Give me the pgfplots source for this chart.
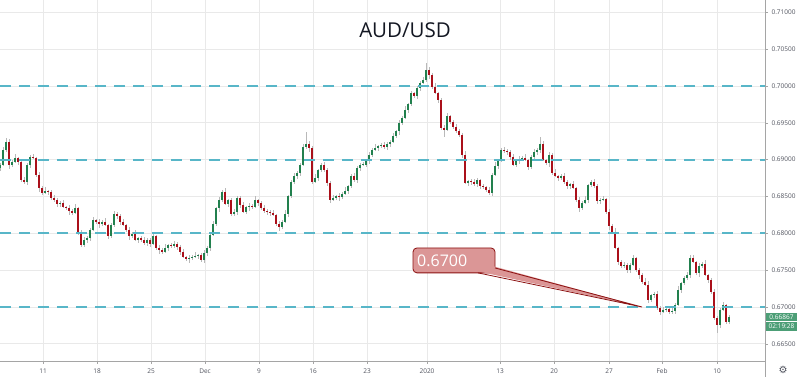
\documentclass[border=0pt]{standalone}
\usepackage{pgfplots}
\pgfplotsset{compat=1.18}
\usepackage{pgfplotstable}
\usepackage{fontspec}
\setmainfont{Open Sans}
\newfontfamily\symfont{DejaVu Sans}
\definecolor{upc}{RGB}{34,128,78}
\definecolor{dnc}{RGB}{170,16,26}
\definecolor{wick}{RGB}{185,185,185}
\definecolor{lvl}{RGB}{88,182,200}
\definecolor{gridc}{RGB}{233,233,233}
\definecolor{axc}{RGB}{165,165,165}
\definecolor{tickc}{RGB}{80,83,94}
\definecolor{calfill}{RGB}{219,150,150}
\definecolor{caldraw}{RGB}{140,18,18}
\definecolor{pricec}{RGB}{76,158,118}

\pgfplotstableread{
x o h l c
0 0.68887 0.68955 0.68847 0.68928
3 0.68928 0.69172 0.68914 0.69132
6 0.69132 0.69294 0.69104 0.69240
9 0.69240 0.69281 0.68874 0.68928
12 0.68928 0.68996 0.68901 0.68969
15 0.68969 0.69077 0.68955 0.69023
18 0.69023 0.69037 0.68928 0.68969
21 0.68969 0.68996 0.68697 0.68725
24 0.68725 0.68765 0.68670 0.68697
27 0.68697 0.68955 0.68657 0.68928
30 0.68928 0.69064 0.68887 0.69037
33 0.69037 0.69077 0.69009 0.69023
36 0.69023 0.69037 0.68765 0.68792
39 0.68792 0.68833 0.68562 0.68616
42 0.68616 0.68643 0.68521 0.68548
45 0.68548 0.68630 0.68535 0.68575
48 0.68575 0.68589 0.68521 0.68562
51 0.68562 0.68589 0.68453 0.68480
54 0.68480 0.68521 0.68426 0.68453
57 0.68453 0.68480 0.68358 0.68399
60 0.68399 0.68439 0.68358 0.68412
63 0.68412 0.68453 0.68345 0.68358
66 0.68358 0.68372 0.68317 0.68345
69 0.68345 0.68385 0.68250 0.68304
72 0.68304 0.68331 0.68250 0.68277
75 0.68277 0.68399 0.68263 0.68345
78 0.68345 0.68358 0.67978 0.68019
81 0.68019 0.68046 0.67815 0.67843
84 0.67843 0.67951 0.67815 0.67910
87 0.67910 0.67965 0.67870 0.67938
90 0.67938 0.68073 0.67897 0.68046
93 0.68046 0.68223 0.68033 0.68182
96 0.68182 0.68195 0.68127 0.68155
99 0.68155 0.68195 0.68073 0.68127
102 0.68127 0.68182 0.68100 0.68155
105 0.68155 0.68209 0.68100 0.68114
108 0.68114 0.68127 0.67924 0.67965
111 0.67965 0.68141 0.67938 0.68114
114 0.68114 0.68304 0.68087 0.68263
117 0.68263 0.68290 0.68195 0.68236
120 0.68236 0.68263 0.68114 0.68155
123 0.68155 0.68195 0.68100 0.68114
126 0.68114 0.68127 0.68019 0.68046
129 0.68046 0.68087 0.67910 0.67965
132 0.67965 0.68019 0.67938 0.67992
135 0.67992 0.68046 0.67897 0.67910
138 0.67910 0.67951 0.67870 0.67938
141 0.67938 0.67965 0.67883 0.67910
144 0.67910 0.67951 0.67843 0.67870
147 0.67870 0.67938 0.67829 0.67910
150 0.67910 0.67938 0.67815 0.67856
153 0.67856 0.68005 0.67843 0.67965
156 0.67965 0.67978 0.67775 0.67802
159 0.67802 0.67843 0.67720 0.67775
162 0.67775 0.67802 0.67720 0.67748
165 0.67748 0.67856 0.67734 0.67802
168 0.67802 0.67856 0.67761 0.67843
171 0.67843 0.67870 0.67802 0.67829
174 0.67829 0.67897 0.67802 0.67856
177 0.67856 0.67883 0.67775 0.67815
180 0.67815 0.67843 0.67707 0.67748
183 0.67748 0.67788 0.67666 0.67680
186 0.67680 0.67693 0.67625 0.67653
189 0.67653 0.67707 0.67598 0.67666
192 0.67666 0.67707 0.67639 0.67680
195 0.67680 0.67748 0.67666 0.67693
198 0.67693 0.67720 0.67653 0.67707
201 0.67707 0.67734 0.67612 0.67639
204 0.67639 0.67775 0.67598 0.67734
207 0.67734 0.67829 0.67693 0.67802
210 0.67802 0.68005 0.67761 0.67978
213 0.67978 0.68168 0.67965 0.68127
216 0.68127 0.68358 0.68100 0.68345
219 0.68345 0.68494 0.68290 0.68453
222 0.68453 0.68589 0.68426 0.68562
225 0.68562 0.68616 0.68385 0.68399
228 0.68399 0.68467 0.68358 0.68453
231 0.68453 0.68480 0.68236 0.68263
234 0.68263 0.68331 0.68236 0.68290
237 0.68290 0.68507 0.68250 0.68480
240 0.68480 0.68507 0.68345 0.68385
243 0.68385 0.68426 0.68277 0.68290
246 0.68290 0.68372 0.68263 0.68358
249 0.68358 0.68412 0.68304 0.68372
252 0.68372 0.68399 0.68331 0.68358
255 0.68358 0.68507 0.68345 0.68453
258 0.68453 0.68467 0.68372 0.68412
261 0.68412 0.68439 0.68317 0.68345
264 0.68345 0.68385 0.68277 0.68304
267 0.68304 0.68331 0.68250 0.68290
270 0.68290 0.68317 0.68236 0.68277
273 0.68277 0.68317 0.68236 0.68250
276 0.68250 0.68263 0.68100 0.68127
279 0.68127 0.68168 0.68033 0.68087
282 0.68087 0.68182 0.68060 0.68155
285 0.68155 0.68317 0.68141 0.68263
288 0.68263 0.68521 0.68223 0.68507
291 0.68507 0.68725 0.68480 0.68697
294 0.68697 0.68819 0.68670 0.68779
297 0.68779 0.68847 0.68738 0.68819
300 0.68819 0.68955 0.68779 0.68928
303 0.68928 0.69213 0.68914 0.69172
306 0.69172 0.69376 0.69145 0.69213
309 0.69213 0.69254 0.69104 0.69159
312 0.69159 0.69186 0.68670 0.68697
315 0.68697 0.68806 0.68684 0.68752
318 0.68752 0.68874 0.68711 0.68860
321 0.68860 0.68955 0.68833 0.68928
324 0.68928 0.68969 0.68833 0.68860
327 0.68860 0.68887 0.68643 0.68684
330 0.68684 0.68711 0.68412 0.68453
333 0.68453 0.68521 0.68439 0.68480
336 0.68480 0.68521 0.68453 0.68507
339 0.68507 0.68548 0.68439 0.68494
342 0.68494 0.68562 0.68467 0.68535
345 0.68535 0.68630 0.68521 0.68575
348 0.68575 0.68657 0.68535 0.68643
351 0.68643 0.68806 0.68616 0.68779
354 0.68779 0.68819 0.68697 0.68725
357 0.68725 0.68914 0.68684 0.68887
360 0.68887 0.68955 0.68847 0.68928
363 0.68928 0.68969 0.68914 0.68935
366 0.68928 0.69009 0.68901 0.68996
369 0.68996 0.69104 0.68942 0.69064
372 0.69064 0.69159 0.69037 0.69132
375 0.69132 0.69213 0.69118 0.69159
378 0.69159 0.69199 0.69118 0.69186
381 0.69186 0.69227 0.69159 0.69199
384 0.69199 0.69240 0.69145 0.69172
387 0.69172 0.69240 0.69132 0.69213
390 0.69213 0.69267 0.69172 0.69240
393 0.69240 0.69362 0.69227 0.69322
396 0.69322 0.69403 0.69294 0.69389
399 0.69389 0.69539 0.69335 0.69498
402 0.69498 0.69593 0.69471 0.69566
405 0.69566 0.69729 0.69552 0.69674
408 0.69674 0.69769 0.69634 0.69756
411 0.69756 0.69932 0.69729 0.69905
414 0.69905 0.69919 0.69837 0.69864
417 0.69864 0.70000 0.69824 0.69973
420 0.69973 0.70068 0.69932 0.70041
423 0.70041 0.70122 0.70027 0.70081
426 0.70081 0.70312 0.70054 0.70217
429 0.70217 0.70258 0.70095 0.70149
432 0.70149 0.70176 0.69959 0.69986
435 0.69986 0.70041 0.69891 0.69905
438 0.69905 0.69919 0.69769 0.69810
441 0.69810 0.69837 0.69403 0.69430
444 0.69430 0.69471 0.69308 0.69403
447 0.69403 0.69634 0.69389 0.69593
450 0.69593 0.69606 0.69484 0.69512
453 0.69512 0.69539 0.69417 0.69444
456 0.69444 0.69484 0.69362 0.69389
459 0.69389 0.69417 0.69308 0.69335
462 0.69335 0.69362 0.69023 0.69064
465 0.69064 0.69118 0.68670 0.68684
468 0.68684 0.68725 0.68643 0.68711
471 0.68711 0.68738 0.68657 0.68697
474 0.68697 0.68738 0.68643 0.68670
477 0.68670 0.68752 0.68630 0.68725
480 0.68725 0.68738 0.68602 0.68643
483 0.68643 0.68670 0.68602 0.68630
486 0.68630 0.68643 0.68562 0.68589
489 0.68589 0.68630 0.68521 0.68548
492 0.68548 0.68819 0.68507 0.68792
495 0.68792 0.68969 0.68779 0.68914
498 0.68914 0.69009 0.68874 0.68996
501 0.68996 0.69159 0.68969 0.69132
504 0.69132 0.69172 0.69091 0.69118
507 0.69118 0.69145 0.69064 0.69104
510 0.69104 0.69132 0.68996 0.69037
513 0.69037 0.69077 0.68914 0.68928
516 0.68928 0.69009 0.68901 0.68996
519 0.68996 0.69050 0.68942 0.69009
522 0.69009 0.69050 0.68982 0.69023
525 0.69023 0.69077 0.68982 0.68996
528 0.68996 0.69009 0.68860 0.68901
531 0.68901 0.69064 0.68874 0.69037
534 0.69037 0.69145 0.69009 0.69104
537 0.69104 0.69159 0.69064 0.69132
540 0.69132 0.69308 0.69091 0.69213
543 0.69213 0.69254 0.68982 0.68996
546 0.68996 0.69009 0.68928 0.68955
549 0.68955 0.69104 0.68901 0.69064
552 0.69064 0.69091 0.68792 0.68819
555 0.68819 0.68874 0.68765 0.68779
558 0.68779 0.68792 0.68711 0.68752
561 0.68752 0.68806 0.68725 0.68779
564 0.68779 0.68819 0.68670 0.68697
567 0.68697 0.68725 0.68602 0.68643
570 0.68643 0.68684 0.68602 0.68670
573 0.68670 0.68711 0.68602 0.68616
576 0.68616 0.68630 0.68426 0.68453
579 0.68453 0.68494 0.68290 0.68345
582 0.68345 0.68439 0.68317 0.68412
585 0.68412 0.68507 0.68399 0.68453
588 0.68453 0.68670 0.68412 0.68657
591 0.68657 0.68725 0.68630 0.68697
594 0.68697 0.68738 0.68616 0.68643
597 0.68643 0.68670 0.68399 0.68439
600 0.68439 0.68480 0.68399 0.68453
603 0.68453 0.68507 0.68439 0.68467
606 0.68467 0.68480 0.68263 0.68290
609 0.68290 0.68331 0.68046 0.68100
612 0.68100 0.68127 0.67992 0.68019
615 0.68019 0.68073 0.67788 0.67802
618 0.67802 0.67815 0.67571 0.67612
621 0.67612 0.67639 0.67530 0.67558
624 0.67558 0.67612 0.67530 0.67571
627 0.67571 0.67598 0.67463 0.67503
630 0.67503 0.67598 0.67463 0.67571
633 0.67571 0.67707 0.67558 0.67666
636 0.67666 0.67680 0.67476 0.67503
639 0.67503 0.67530 0.67381 0.67435
642 0.67435 0.67463 0.67313 0.67340
645 0.67340 0.67395 0.67286 0.67300
648 0.67300 0.67354 0.67055 0.67096
651 0.67096 0.67178 0.67069 0.67164
654 0.67164 0.67205 0.67123 0.67178
657 0.67178 0.67218 0.66961 0.66988
660 0.66988 0.67015 0.66893 0.66933
663 0.66933 0.67001 0.66920 0.66961
666 0.66961 0.66988 0.66933 0.66974
669 0.66974 0.67001 0.66906 0.66933
672 0.66933 0.66988 0.66906 0.66947
675 0.66947 0.67055 0.66906 0.67028
678 0.67028 0.67286 0.67015 0.67232
681 0.67232 0.67340 0.67191 0.67327
684 0.67327 0.67422 0.67300 0.67395
687 0.67395 0.67476 0.67368 0.67435
690 0.67435 0.67707 0.67395 0.67666
693 0.67666 0.67707 0.67598 0.67612
696 0.67612 0.67625 0.67435 0.67463
699 0.67463 0.67598 0.67408 0.67558
702 0.67558 0.67612 0.67530 0.67585
705 0.67585 0.67639 0.67422 0.67435
708 0.67435 0.67449 0.67327 0.67368
711 0.67368 0.67395 0.67178 0.67205
714 0.67205 0.67245 0.66825 0.66852
717 0.66852 0.66879 0.66648 0.66757
720 0.66757 0.66988 0.66716 0.66961
723 0.66961 0.67069 0.66947 0.67028
726 0.67028 0.67042 0.66770 0.66798
729 0.66798 0.66893 0.66770 0.66867
}\candles

\begin{document}
\begin{tikzpicture}[x=1pt,y=1pt]
\useasboundingbox (0,0) rectangle (800,-377);
\begin{axis}[
  at={(0,0)}, anchor=north west, scale only axis,
  width=765pt, height=361pt,
  xmin=0, xmax=765, ymin=0.66267, ymax=0.71167,
  axis line style={draw=none},
  xtick={43,97,151,205,259,313,367,427,500,554,609,662,717},
  xticklabels={11,18,25,Dec,9,16,23,2020,13,20,27,Feb,10},
  ytick={0.665,0.670,0.675,0.680,0.685,0.690,0.695,0.700,0.705,0.710},
  ytick pos=right, yticklabel pos=right, xtick pos=bottom,
  tick align=outside, major tick length=3pt,
  tick style={axc, line width=0.6pt},
  grid=major, major grid style={gridc, line width=0.8pt},
  tick label style={font=\fontsize{6.5}{7}\selectfont, text=tickc},
  /pgf/number format/assume math mode=true,
  scaled y ticks=false,
  yticklabel style={/pgf/number format/.cd, fixed, fixed zerofill, precision=5},
  xticklabel style={yshift=-1pt},
]
% wicks
\addplot[draw=none, mark=none, forget plot,
  error bars/.cd, y dir=plus, y explicit, error mark=none,
  error bar style={draw=wick, line width=0.7pt}]
  table[x=x, y=l, y error plus expr={\thisrow{h}-\thisrow{l}}] {\candles};
% up bodies
\addplot[draw=none, mark=none, forget plot,
  error bars/.cd, y dir=plus, y explicit, error mark=none,
  error bar style={draw=upc, line width=1.6pt}]
  table[x=x, y=o, y error plus expr={max(\thisrow{c}-\thisrow{o},0)}] {\candles};
% down bodies
\addplot[draw=none, mark=none, forget plot,
  error bars/.cd, y dir=plus, y explicit, error mark=none,
  error bar style={draw=dnc, line width=1.6pt}]
  table[x=x, y=c, y error plus expr={max(\thisrow{o}-\thisrow{c},0)}] {\candles};
% levels
\draw[lvl, line width=2pt, dash pattern=on 11pt off 8pt] (axis cs:0,0.70) -- (axis cs:765,0.70);
\draw[lvl, line width=2pt, dash pattern=on 11pt off 8pt] (axis cs:0,0.69) -- (axis cs:765,0.69);
\draw[lvl, line width=2pt, dash pattern=on 11pt off 8pt] (axis cs:0,0.68) -- (axis cs:765,0.68);
\draw[lvl, line width=2pt, dash pattern=on 11pt off 8pt] (axis cs:0,0.67) -- (axis cs:765,0.67);
% callout
\draw[fill=calfill, draw=caldraw, line width=0.8pt, rounded corners=4pt]
  (axis cs:413,0.67802) rectangle (axis cs:495,0.67463);
\fill[calfill] (axis cs:476,0.67490) -- (axis cs:642,0.6700) -- (axis cs:492,0.67558) -- cycle;
\draw[caldraw, line width=0.8pt] (axis cs:478,0.67463) -- (axis cs:642,0.6700) -- (axis cs:495,0.67530);
\node[anchor=west, text=white, font=\fontsize{16}{18}\selectfont, inner sep=0pt]
  at (axis cs:417,0.67632) {0.6700};
\end{axis}
\draw[axc, line width=0.8pt] (765,0) -- (765,-377);
\draw[axc, line width=0.8pt] (0,-361) -- (765,-361);
\node[font=\fontsize{20.5}{24}\selectfont, text={rgb,255:red,19;green,23;blue,34}] at (405,-30) {AUD/USD};
\fill[pricec] (766,-312.5) rectangle (797,-321.2);
\node[text=white, font=\fontsize{6.5}{7}\selectfont, inner sep=0pt] at (781.5,-316.9) {0.66867};
\fill[pricec] (766,-322) rectangle (797,-330.7);
\node[text=white, font=\fontsize{6.5}{7}\selectfont, inner sep=0pt] at (781.5,-326.4) {02:19:28};
\node[text=tickc, font=\symfont\fontsize{10}{11}\selectfont, inner sep=0pt] at (783,-369.5) {⚙};
\end{tikzpicture}
\end{document}
